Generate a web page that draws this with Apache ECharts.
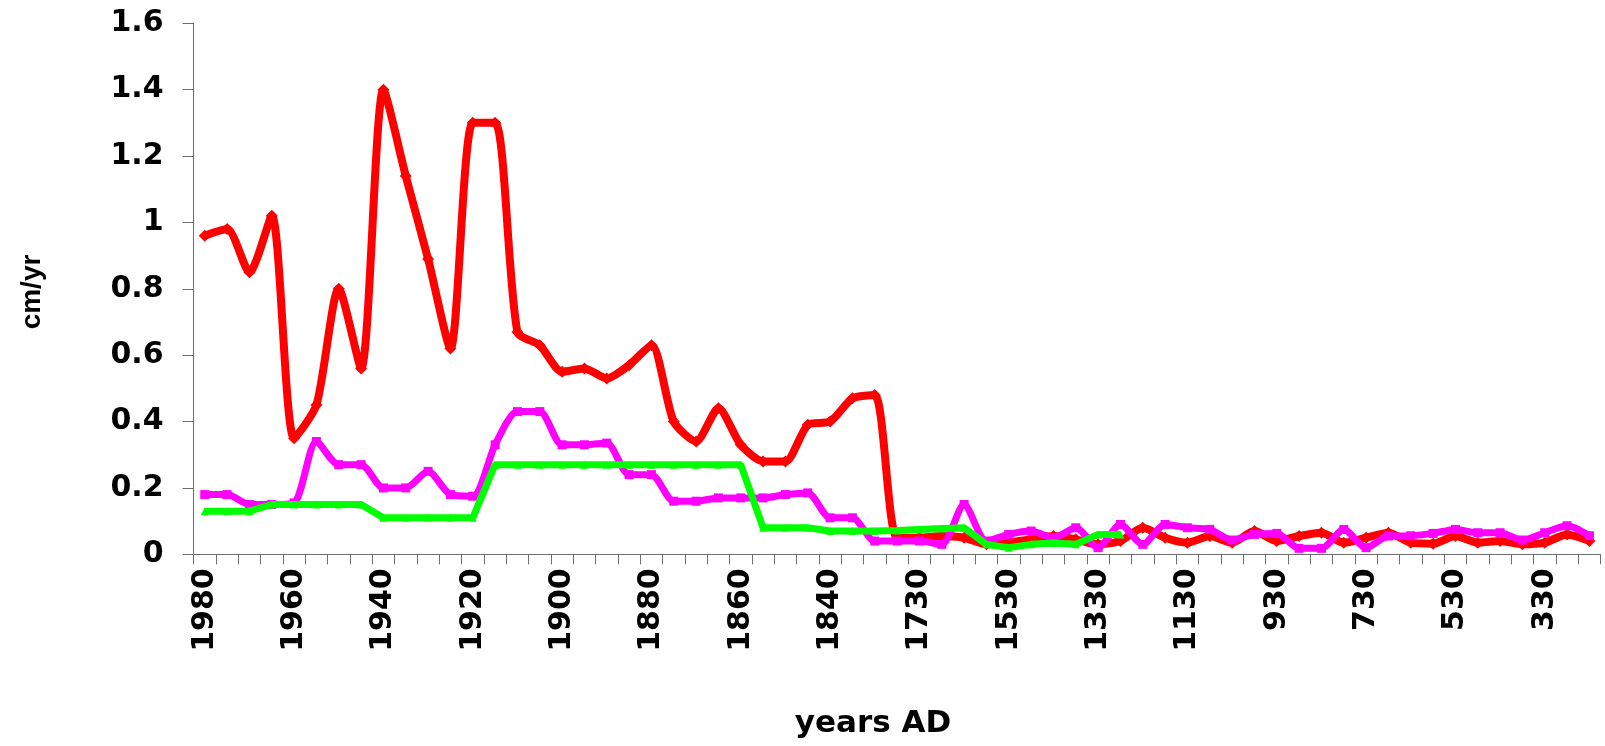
<!DOCTYPE html>
<html>
<head>
<meta charset="utf-8">
<script src="https://cdn.jsdelivr.net/npm/echarts@6/dist/echarts.min.js"></script>
<style>
html,body{margin:0;padding:0;background:#fff;}
#chart{width:1605px;height:746px;}
</style>
</head>
<body>
<div id="chart"></div>
<script>
const years = ["1980","1975","1970","1965","1960","1955","1950","1945","1940","1935","1930","1925","1920","1915","1910","1905","1900","1895","1890","1885","1880","1875","1870","1865","1860","1855","1850","1845","1840","1835","1830","1780","1730","1680","1630","1580","1530","1480","1430","1380","1330","1280","1230","1180","1130","1080","1030","980","930","880","830","780","730","680","630","580","530","480","430","380","330","280","230"];

const redSeries = [0.96,0.98,0.85,1.02,0.35,0.45,0.80,0.56,1.40,1.14,0.89,0.62,1.30,1.30,0.67,0.63,0.55,0.56,0.53,0.57,0.63,0.40,0.34,0.44,0.33,0.28,0.28,0.39,0.40,0.47,0.48,0.05,0.05,0.055,0.05,0.03,0.035,0.045,0.055,0.045,0.03,0.04,0.08,0.05,0.035,0.055,0.035,0.07,0.04,0.055,0.065,0.035,0.05,0.065,0.035,0.032,0.055,0.035,0.04,0.03,0.035,0.06,0.04];

const magentaSeries = [0.18,0.18,0.15,0.15,0.155,0.34,0.27,0.27,0.20,0.20,0.25,0.18,0.175,0.33,0.43,0.43,0.33,0.33,0.335,0.24,0.24,0.16,0.16,0.17,0.17,0.17,0.18,0.185,0.11,0.11,0.04,0.04,0.04,0.03,0.15,0.04,0.06,0.07,0.05,0.08,0.02,0.09,0.03,0.09,0.08,0.075,0.043,0.06,0.063,0.018,0.018,0.075,0.02,0.055,0.056,0.063,0.075,0.065,0.065,0.043,0.065,0.086,0.056];

const greenSeries = [0.13,0.13,0.13,0.15,0.15,0.15,0.15,0.15,0.11,0.11,0.11,0.11,0.11,0.27,0.27,0.27,0.27,0.27,0.27,0.27,0.27,0.27,0.27,0.27,0.27,0.08,0.08,0.08,0.07,0.07,0.07,0.072,0.075,0.078,0.08,0.03,0.02,0.03,0.034,0.03,0.06,0.06];

const yTicks = [0, 0.2, 0.4, 0.6, 0.8, 1, 1.2, 1.4, 1.6];

const axisColor = '#6e6e6e';
const tickFont = 'DejaVu Sans';

const chart = echarts.init(document.getElementById('chart'), null, {renderer: 'canvas'});
chart.setOption({
  animation: false,
  backgroundColor: '#ffffff',
  grid: {left: 193.6, right: 4.4, top: 23.3, bottom: 191.7, containLabel: false},
  xAxis: {
    type: 'category',
    data: years,
    boundaryGap: true,
    axisLine: {show: true, lineStyle: {color: axisColor, width: 1}},
    axisTick: {show: true, interval: 0, length: 10, lineStyle: {color: axisColor, width: 1}},
    axisLabel: {
      interval: 3, rotate: 90, margin: 14,
      fontFamily: tickFont, fontWeight: 'bold', fontSize: 30, color: '#000'
    },
    splitLine: {show: false}
  },
  yAxis: {
    type: 'value',
    min: yTicks[0], max: yTicks[yTicks.length - 1], interval: 0.2,
    axisLine: {show: true, lineStyle: {color: axisColor, width: 1}},
    axisTick: {show: true, length: 11, lineStyle: {color: axisColor, width: 1}},
    axisLabel: {
      margin: 30,
      fontFamily: tickFont, fontWeight: 'bold', fontSize: 30, color: '#000',
      formatter: function (v) { return String(Math.round(v * 10) / 10); }
    },
    splitLine: {show: false}
  },
  graphic: [
    {
      type: 'text', x: 873, y: 723.5,
      style: {text: 'years AD', fill: '#000', fontFamily: 'DejaVu Sans', fontWeight: 'bold', fontSize: 31,
        textAlign: 'center', textVerticalAlign: 'middle', align: 'center', verticalAlign: 'middle'}
    },
    {
      type: 'text', x: 32, y: 292, rotation: Math.PI / 2,
      style: {text: 'cm/yr', fill: '#000', fontFamily: 'Liberation Sans', fontWeight: 'bold', fontSize: 28,
        textAlign: 'center', textVerticalAlign: 'middle', align: 'center', verticalAlign: 'middle'}
    }
  ],
  series: [
    {
      name: 'red', type: 'line', data: redSeries, smooth: 0.24,
      symbol: 'diamond', symbolSize: 12, showSymbol: true,
      lineStyle: {color: '#ff0000', width: 8},
      itemStyle: {color: '#ff0000', borderWidth: 0},
      z: 2
    },
    {
      name: 'magenta', type: 'line', data: magentaSeries, smooth: 0.25,
      symbol: 'rect', symbolSize: 9, showSymbol: true,
      lineStyle: {color: '#ff00ff', width: 7},
      itemStyle: {color: '#ff00ff', borderWidth: 0},
      z: 3
    },
    {
      name: 'green', type: 'line', data: greenSeries, smooth: false,
      symbol: 'triangle', symbolSize: 8, showSymbol: true,
      lineStyle: {color: '#00ff00', width: 7},
      itemStyle: {color: '#00ff00', borderWidth: 0},
      z: 4
    }
  ]
});
</script>
</body>
</html>
